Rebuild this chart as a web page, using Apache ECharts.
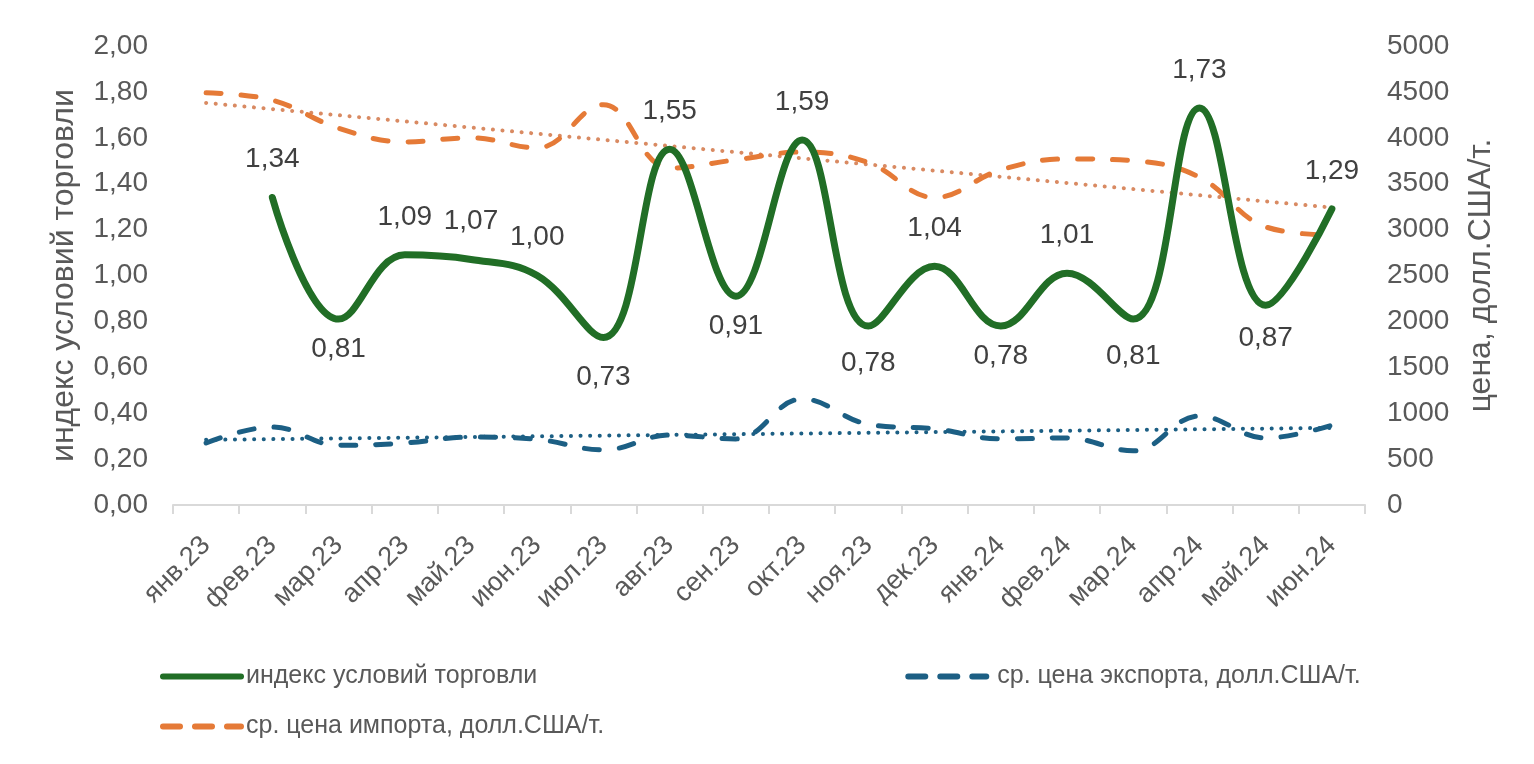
<!DOCTYPE html>
<html>
<head>
<meta charset="utf-8">
<script src="https://cdn.jsdelivr.net/npm/echarts@6/dist/echarts.min.js"></script>
<style>html,body{margin:0;padding:0;background:#fff}#c{width:1534px;height:764px}</style>
</head>
<body>
<div id="c"></div>
<script>
const categories = ['янв.23','фев.23','мар.23','апр.23','май.23','июн.23','июл.23','авг.23','сен.23','окт.23','ноя.23','дек.23','янв.24','фев.24','мар.24','апр.24','май.24','июн.24'];
const tradeIndex = [null,1.34,0.81,1.09,1.07,1.00,0.73,1.55,0.91,1.59,0.78,1.04,0.78,1.01,0.81,1.73,0.87,1.29];
const labelSide = [null,'top','bottom','top','top','top','bottom','top','bottom','top','bottom','top','bottom','top','bottom','top','bottom','top'];
const exportPrice = [675,850,650,675,740,715,600,762,720,1155,880,830,720,730,590,970,730,870];
const importPrice = [4490,4410,4105,3955,4000,3890,4360,3670,3760,3845,3730,3350,3650,3770,3750,3570,3030,2940];
const exportTrend = [710,null,null,null,null,null,null,null,null,null,null,null,null,null,null,null,null,840];
const importTrend = [4380,null,null,null,null,null,null,null,null,null,null,null,null,null,null,null,null,3240];
const leftTicks = {min:0,max:2,interval:0.2};
const rightTicks = {min:0,max:5000,interval:500};

const GREEN = '#216e26', BLUE = '#1c5f84', ORANGE = '#e57a37', ORANGE_T = '#d98a62';
const TXT = '#595959', FONT = 'Liberation Sans, Arial, sans-serif';
const fmt = v => v.toFixed(2).replace('.', ',');
// extra label spacing (px) for a few deep troughs, style only
const extraGap = {6: 10, 10: 7, 14: 7, 16: 3};

const chart = echarts.init(document.getElementById('c'));
const legendText = {fontSize: 25, color: TXT, fontFamily: FONT};
const legendDash = {type: [17, 15], width: 6, cap: 'round'};
chart.setOption({
  animation: false,
  textStyle: {fontFamily: FONT},
  grid: {left: 173, right: 169, top: 46, bottom: 259},
  legend: [
    {left: 160, top: 664, padding: 0, itemWidth: 78, itemHeight: 14, itemGap: 368,
     itemStyle: {opacity: 0}, lineStyle: {width: 6, cap: 'round'}, textStyle: legendText,
     data: ['индекс условий торговли',
            {name: 'ср. цена экспорта, долл.США/т.', lineStyle: legendDash, textStyle: {padding: [0, 0, 0, 6]}}]},
    {left: 160, top: 714, padding: 0, itemWidth: 78, itemHeight: 14,
     itemStyle: {opacity: 0}, lineStyle: {width: 6, cap: 'round'}, textStyle: legendText,
     data: [{name: 'ср. цена импорта, долл.США/т.', lineStyle: legendDash}]}
  ],
  xAxis: {
    type: 'category', data: categories, boundaryGap: true,
    axisLine: {lineStyle: {color: '#d9d9d9', width: 2}},
    axisTick: {show: true, length: 9, lineStyle: {color: '#d9d9d9', width: 2}},
    axisLabel: {rotate: 45, fontSize: 27, color: TXT, margin: 36, fontFamily: FONT}
  },
  yAxis: [
    {type: 'value', min: leftTicks.min, max: leftTicks.max, interval: leftTicks.interval,
     splitLine: {show: false}, axisLine: {show: false}, axisTick: {show: false},
     axisLabel: {formatter: v => fmt(v), fontSize: 28, color: TXT, margin: 25, fontFamily: FONT},
     name: 'индекс условий торговли', nameLocation: 'middle', nameRotate: 90, nameGap: 93,
     nameTextStyle: {fontSize: 32, color: TXT, fontFamily: FONT}},
    {type: 'value', min: rightTicks.min, max: rightTicks.max, interval: rightTicks.interval,
     splitLine: {show: false}, axisLine: {show: false}, axisTick: {show: false},
     axisLabel: {formatter: v => String(v), fontSize: 28, color: TXT, margin: 22, fontFamily: FONT},
     name: 'цена, долл.США/т.', nameLocation: 'middle', nameRotate: 90, nameGap: 100,
     nameTextStyle: {fontSize: 32, color: TXT, fontFamily: FONT}}
  ],
  series: [
    {name: 'ср. цена импорта, долл.США/т.', type: 'line', yAxisIndex: 1, smooth: 0.4,
     data: importPrice, symbol: 'none', z: 2,
     lineStyle: {color: ORANGE, width: 5, type: [15, 20], cap: 'round'},
     itemStyle: {color: ORANGE}},
    {name: 'importTrend', type: 'line', yAxisIndex: 1, data: importTrend, connectNulls: true,
     symbol: 'none', z: 1, lineStyle: {color: ORANGE_T, width: 4, type: [0.1, 9.5], cap: 'round'}},
    {name: 'ср. цена экспорта, долл.США/т.', type: 'line', yAxisIndex: 1, smooth: 0.4,
     data: exportPrice, symbol: 'none', z: 2,
     lineStyle: {color: BLUE, width: 5, type: [15, 20], cap: 'round'},
     itemStyle: {color: BLUE}},
    {name: 'exportTrend', type: 'line', yAxisIndex: 1, data: exportTrend, connectNulls: true,
     symbol: 'none', z: 1, lineStyle: {color: BLUE, width: 4, type: [0.1, 9.5], cap: 'round'}},
    {name: 'индекс условий торговли', type: 'line', yAxisIndex: 0, smooth: 0.4, z: 3,
     data: tradeIndex.map((v, i) => v === null ? null : {
       value: v,
       label: {position: labelSide[i], distance: (labelSide[i] === 'top' ? 24 : 16) + (extraGap[i] || 0)}
     }),
     symbol: 'circle', symbolSize: 0, showSymbol: true,
     lineStyle: {color: GREEN, width: 7, cap: 'round'}, itemStyle: {color: GREEN},
     label: {show: true, formatter: p => fmt(p.value), fontSize: 28, color: '#404040', fontFamily: FONT}}
  ]
});
</script>
</body>
</html>
